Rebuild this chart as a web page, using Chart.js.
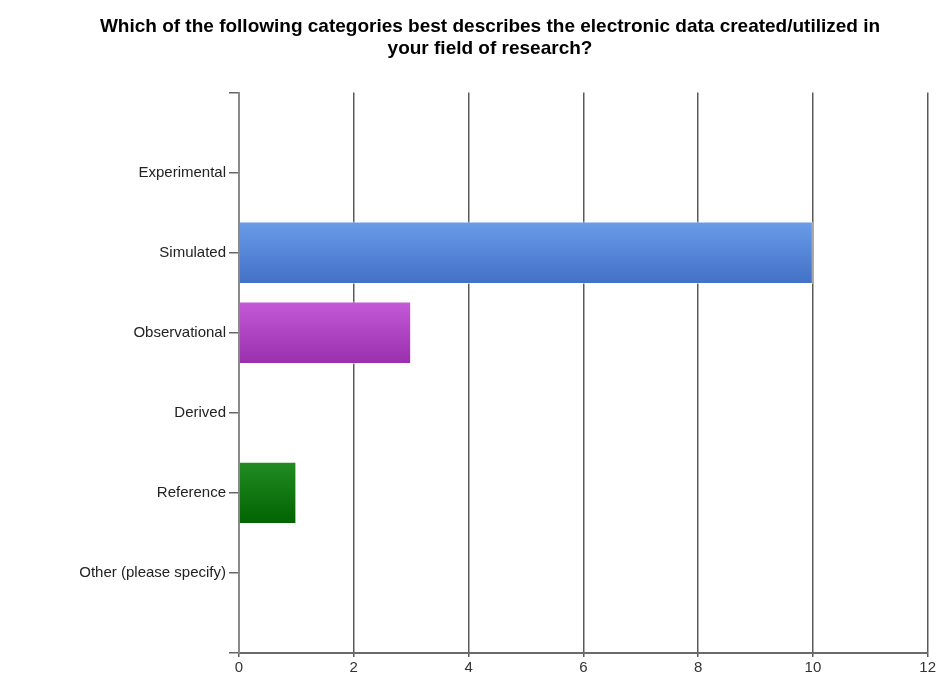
<!DOCTYPE html>
<html>
<head>
<meta charset="utf-8">
<script src="https://cdn.jsdelivr.net/npm/chart.js@4"></script>
<style>
  body { margin: 0; background: #fff; }
  #wrap { width: 938px; height: 680px; }
</style>
</head>
<body>
<div id="wrap"><canvas id="myChart"></canvas></div>
<script>
// categories, padded with an empty slot at each end like the original
var categories = ['Experimental', 'Simulated', 'Observational', 'Derived', 'Reference', 'Other (please specify)'];
var responses = [0, 10, 3, 0, 1, 0];
var xTicks = [0, 2, 4, 6, 8, 10, 12];

var topColors = ['#6a9ce9', '#6a9ce9', '#c45ad8', '#6a9ce9', '#238c23', '#6a9ce9'];
var bottomColors = ['#4270c6', '#4270c6', '#9a2fae', '#4270c6', '#006300', '#4270c6'];

var labels = [''].concat(categories).concat(['']);
var values = [null].concat(responses).concat([null]);

function barFill(ctx) {
    var chart = ctx.chart;
    var i = ctx.dataIndex - 1;
    if (i < 0 || i >= categories.length) return '#fff';
    if (!chart.chartArea) return topColors[i];
    var y = chart.scales.y;
    var mid = y.getPixelForValue(ctx.dataIndex);
    var half = (y.getPixelForValue(1) - y.getPixelForValue(0)) * 0.78 / 2;
    var g = chart.ctx.createLinearGradient(0, mid - half, 0, mid + half);
    g.addColorStop(0, topColors[i]);
    g.addColorStop(1, bottomColors[i]);
    return g;
}

var labelFont = { family: "'Liberation Sans', Arial, sans-serif", size: 15 };

var graphTarget = document.getElementById('myChart');
var barGraph = new Chart(graphTarget, {
    type: 'bar',
    data: {
        labels: labels,
        datasets: [
            {
                data: values,
                backgroundColor: barFill,
                borderColor: 'rgba(255,255,255,0.6)',
                borderWidth: 1,
                categoryPercentage: 1,
                barPercentage: 0.78
            }
        ]
    },
    options: {
        indexAxis: 'y',
        responsive: true,
        maintainAspectRatio: false,
        animation: false,
        layout: { padding: { left: 48, right: 6, bottom: 1 } },
        plugins: {
            legend: { display: false },
            tooltip: { enabled: false },
            title: {
                display: true,
                text: ['Which of the following categories best describes the electronic data created/utilized in',
                       'your field of research?'],
                color: '#000',
                font: { family: "'Liberation Sans', Arial, sans-serif", size: 19, weight: 'bold', lineHeight: 1.2 },
                padding: { top: 15, bottom: 32 }
            }
        },
        scales: {
            x: {
                min: 0,
                max: 12,
                afterBuildTicks: function (scale) {
                    scale.ticks = xTicks.map(function (v) { return { value: v }; });
                },
                grid: { color: '#5a5a5a', lineWidth: 1.5, tickLength: 4 },
                border: { color: '#6a6a6a', width: 2 },
                ticks: { color: '#333', padding: 2, font: labelFont }
            },
            y: {
                type: 'category',
                offset: false,
                afterFit: function (scale) { scale.width = 191; },
                grid: { offset: false, drawOnChartArea: false, drawTicks: true, tickLength: 10, color: '#666', lineWidth: 1.5 },
                border: { color: '#8a8a8a', width: 2 },
                ticks: { color: '#222', padding: 3, font: labelFont }
            }
        }
    }
});
</script>
</body>
</html>
